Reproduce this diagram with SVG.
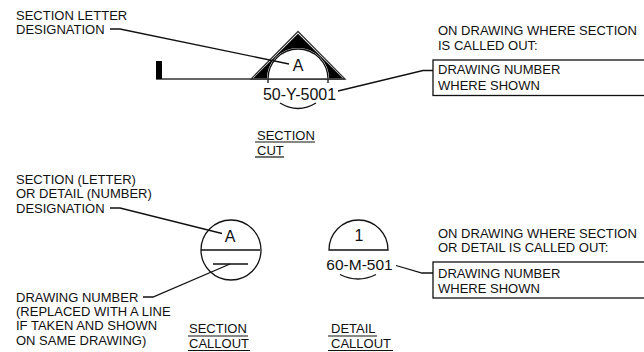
<svg xmlns="http://www.w3.org/2000/svg" width="644" height="352" viewBox="0 0 644 352">
<style>
text{font-family:"Liberation Sans",Arial,sans-serif;font-size:13px;fill:#111}
.big{font-size:16px}
.l{fill:none;stroke:#111;stroke-width:1.3}
.u{fill:none;stroke:#111;stroke-width:1.2}
</style>
<rect width="644" height="352" fill="#fff"/>
<g id="section-cut">
<path d="M298 31.500L251 79H345Z" fill="#fff" stroke="#333" stroke-width="1.300"/>
<path d="M298 33.800L253.500 78H268.500A30 30 0 0 1 327.500 78H342.500Z" fill="#000"/>
<path d="M268 79A30 30 0 0 1 328 79" fill="#fff" stroke="#fff" stroke-width="2.200"/>
<path d="M268 83V79A30 30 0 0 1 328 79V83" class="l"/>
<path d="M156 79H345" fill="none" stroke="#333" stroke-width="1.600"/>
<rect x="156" y="61" width="6" height="18" fill="#000"/>
<path d="M280 103Q298 114 316 103" class="l"/>
<text class="big" x="298" y="71" text-anchor="middle">A</text>
<text class="big" x="299.500" y="100" text-anchor="middle">50-Y-5001</text>
<text x="257" y="140">SECTION</text><path d="M255 142H315" class="u"/>
<text x="257" y="155">CUT</text><path d="M255 157H284" class="u"/>
</g>
<g id="section-callout">
<circle cx="231" cy="250" r="30" class="l"/>
<path d="M201 250H260M213 264H248" class="l"/>
<text class="big" x="230" y="242" text-anchor="middle">A</text>
<text x="189" y="333">SECTION</text><path d="M188 336H248" class="u"/>
<text x="189" y="348">CALLOUT</text><path d="M188 350.500H250" class="u"/>
</g>
<g id="detail-callout">
<path d="M329 250A29.500 30 0 0 1 388 250Z" class="l"/>
<path d="M340 274.500Q358 283.500 376 274.500" class="l"/>
<text class="big" x="359" y="241" text-anchor="middle">1</text>
<text class="big" style="font-size:15.500px" x="359.500" y="269.500" text-anchor="middle">60-M-501</text>
<text x="331" y="333">DETAIL</text><path d="M328 336H377" class="u"/>
<text x="331" y="348">CALLOUT</text><path d="M328 350.500H393" class="u"/>
</g>
<g id="section-note">
<text x="16" y="20">SECTION LETTER</text>
<text x="16" y="34">DESIGNATION</text>
</g>
<g id="section-box">
<text x="438" y="35">ON DRAWING WHERE SECTION</text>
<text x="438" y="50">IS CALLED OUT:</text>
<rect x="433" y="60" width="220" height="35.500" class="l"/>
<text x="438" y="74">DRAWING NUMBER</text>
<text x="438" y="90">WHERE SHOWN</text>
</g>
<g id="callout-note">
<text x="16" y="184">SECTION (LETTER)</text>
<text x="16" y="198">OR DETAIL (NUMBER)</text>
<text x="16" y="213">DESIGNATION</text>
</g>
<g id="drawing-note">
<text x="16" y="302">DRAWING NUMBER</text>
<text x="16" y="316">(REPLACED WITH A LINE</text>
<text x="16" y="330">IF TAKEN AND SHOWN</text>
<text x="16" y="345">ON SAME DRAWING)</text>
</g>
<g id="detail-box">
<text x="438" y="238">ON DRAWING WHERE SECTION</text>
<text x="438" y="252">OR DETAIL IS CALLED OUT:</text>
<rect x="433" y="262" width="220" height="36" class="l"/>
<text x="438" y="278">DRAWING NUMBER</text>
<text x="438" y="293">WHERE SHOWN</text>
</g>
<g id="connectors">
<path class="l" d="M110 29H120L289 64"/>
<path class="l" d="M338 91L423 70.500H433"/>
<path class="l" d="M110 208H120L222 233.500"/>
<path class="l" d="M143 297H153L230 264"/>
<path class="l" d="M396 265.500L422 273H433"/>
</g>
</svg>
